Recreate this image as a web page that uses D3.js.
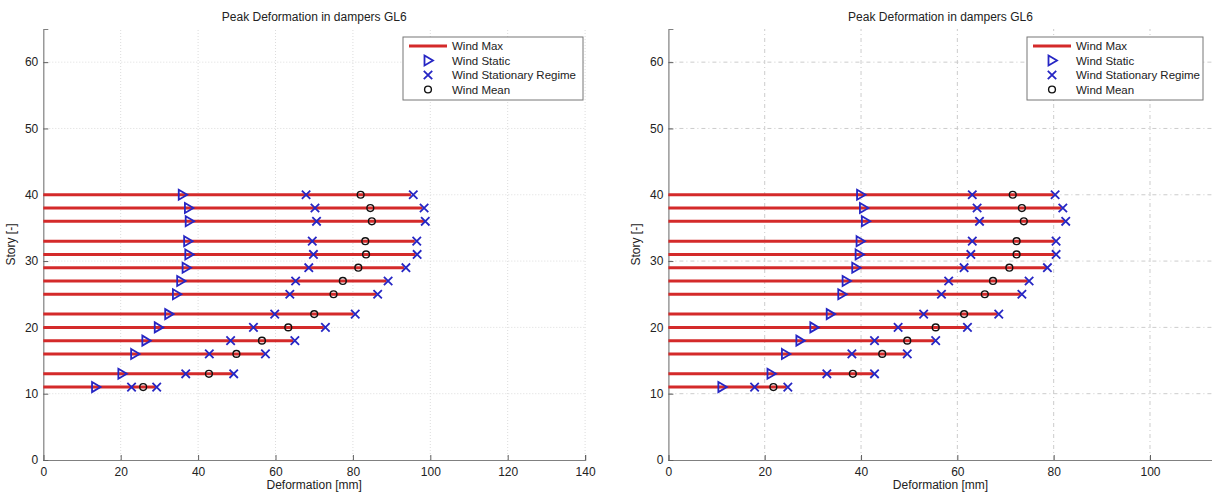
<!DOCTYPE html>
<html>
<head>
<meta charset="utf-8">
<script src="https://cdn.jsdelivr.net/npm/d3@7"></script>
<style>
  body { margin: 0; background: #fff; }
  svg { font-family: "Liberation Sans", Arial, sans-serif; }
</style>
</head>
<body>
<div class="canvas"></div>
<script>
// Stories (floors with dampers)
const stories = [40, 38, 36, 33, 31, 29, 27, 25, 22, 20, 18, 16, 13, 11];

// Left panel values [mm]
const leftStatic = [35.9, 37.5, 37.7, 37.3, 37.6, 36.9, 35.5, 34.4, 32.4, 29.7, 26.5, 23.6, 20.3, 13.5];
const leftStatLow = [67.9, 70.2, 70.6, 69.5, 69.8, 68.6, 65.2, 63.7, 59.8, 54.3, 48.4, 42.9, 36.8, 22.8];
const leftStatHigh = [95.6, 98.4, 98.7, 96.5, 96.6, 93.7, 89.1, 86.4, 80.6, 72.9, 65.0, 57.4, 49.2, 29.3];
const leftMean = [82.0, 84.5, 84.9, 83.2, 83.4, 81.4, 77.4, 75.0, 70.0, 63.3, 56.5, 49.9, 42.8, 25.8];
const leftMax = [95.0, 98.0, 98.4, 96.0, 96.2, 93.2, 88.7, 86.0, 80.2, 72.5, 64.6, 57.0, 48.8, 29.0];

// Right panel values [mm]
const rightStatic = [39.9, 40.5, 40.9, 39.8, 39.6, 38.9, 36.9, 36.0, 33.6, 30.2, 27.3, 24.3, 21.3, 11.1];
const rightStatLow = [63.1, 64.1, 64.6, 63.1, 62.8, 61.4, 58.2, 56.7, 53.0, 47.7, 42.8, 38.1, 32.9, 17.9];
const rightStatHigh = [80.3, 81.9, 82.5, 80.5, 80.5, 78.7, 74.9, 73.4, 68.6, 62.1, 55.5, 49.6, 42.8, 24.8];
const rightMean = [71.5, 73.4, 73.8, 72.3, 72.3, 70.8, 67.4, 65.7, 61.4, 55.5, 49.6, 44.4, 38.3, 21.8];
const rightMax = [80.0, 81.6, 82.2, 80.2, 80.2, 78.4, 74.6, 73.1, 68.3, 61.8, 55.2, 49.3, 42.5, 24.5];

const legendLabels = ['Wind Max', 'Wind Static', 'Wind Stationary Regime', 'Wind Mean'];
const yTicks = [0, 10, 20, 30, 40, 50, 60];
const leftXTicks = [0, 20, 40, 60, 80, 100, 120, 140];
const rightXTicks = [0, 20, 40, 60, 80, 100];

const svg = d3.select('.canvas')
    .append('svg')
    .attr('width', 1212)
    .attr('height', 495);

const red = '#d42a2a';
const blue = '#2626c4';

const drawPanel = (opt) => {
    const x = d3.scaleLinear().domain([0, opt.xMax]).range([opt.left, opt.right]);
    const y = d3.scaleLinear().domain([0, 65]).range([460, 29]);
    const g = svg.append('g');

    // grid
    g.append('g').selectAll('line')
        .data(opt.xTicks.filter(d => d > 0))
        .enter().append('line')
        .attr('x1', d => x(d)).attr('x2', d => x(d))
        .attr('y1', y(0)).attr('y2', y(65))
        .attr('stroke', opt.gridColor)
        .attr('stroke-dasharray', opt.gridDash);
    g.append('g').selectAll('line')
        .data(yTicks.filter(d => d > 0))
        .enter().append('line')
        .attr('x1', x(0)).attr('x2', opt.right)
        .attr('y1', d => y(d)).attr('y2', d => y(d))
        .attr('stroke', opt.gridColor)
        .attr('stroke-dasharray', opt.gridDash);

    // axes (MATLAB style, ticks inside)
    const xAxis = d3.axisTop(x).tickValues(opt.xTicks).tickSize(5).tickFormat(d3.format('d'));
    const gx = g.append('g').attr('transform', `translate(0, ${y(0)})`).call(xAxis);
    gx.select('.domain').attr('stroke', '#808080').attr('stroke-width', 1.2);
    gx.selectAll('.tick line').attr('stroke', '#606060');
    gx.selectAll('.tick text').attr('y', 7).attr('dy', '0.71em')
        .attr('font-size', 12).attr('fill', '#222');

    const yAxis = d3.axisRight(y).tickValues(yTicks).tickSize(5);
    const gy = g.append('g').attr('transform', `translate(${x(0)}, 0)`).call(yAxis);
    gy.select('.domain').attr('stroke', '#808080').attr('stroke-width', 1.2);
    gy.selectAll('.tick line').attr('stroke', '#606060');
    gy.selectAll('.tick text').attr('x', -5).attr('text-anchor', 'end')
        .attr('font-size', 12).attr('fill', '#222');

    // titles
    g.append('text')
        .attr('x', (opt.left + opt.right) / 2).attr('y', 21)
        .attr('text-anchor', 'middle').attr('font-size', 12).attr('fill', '#222')
        .text('Peak Deformation in dampers GL6');
    g.append('text')
        .attr('x', (opt.left + opt.right) / 2).attr('y', 489)
        .attr('text-anchor', 'middle').attr('font-size', 12).attr('fill', '#222')
        .text('Deformation [mm]');
    g.append('text')
        .attr('transform', `translate(${x(0) - 28}, ${y(32.5)}) rotate(-90)`)
        .attr('text-anchor', 'middle').attr('font-size', 12).attr('fill', '#222')
        .text('Story [-]');

    const rows = stories.map((s, i) => ({
        s, stat: opt.stat[i], lo: opt.lo[i], hi: opt.hi[i], mean: opt.mean[i], max: opt.max[i]
    }));

    // Wind Max lines
    g.append('g').selectAll('line')
        .data(rows).enter().append('line')
        .attr('x1', x(0)).attr('x2', d => x(d.max))
        .attr('y1', d => y(d.s)).attr('y2', d => y(d.s))
        .attr('stroke', red).attr('stroke-width', 3);

    // Wind Static triangles
    const tri = 'M-3.5,-5L5,0L-3.5,5Z';
    g.append('g').selectAll('path')
        .data(rows).enter().append('path')
        .attr('d', tri)
        .attr('transform', d => `translate(${x(d.stat)}, ${y(d.s)})`)
        .attr('fill', 'none').attr('stroke', blue).attr('stroke-width', 1.8);

    // Wind Stationary Regime crosses
    const cross = 'M-4.2,-4.2L4.2,4.2M-4.2,4.2L4.2,-4.2';
    const crossData = rows.flatMap(d => [{ v: d.lo, s: d.s }, { v: d.hi, s: d.s }]);
    g.append('g').selectAll('path')
        .data(crossData).enter().append('path')
        .attr('d', cross)
        .attr('transform', d => `translate(${x(d.v)}, ${y(d.s)})`)
        .attr('fill', 'none').attr('stroke', blue).attr('stroke-width', 1.8);

    // Wind Mean circles
    g.append('g').selectAll('circle')
        .data(rows).enter().append('circle')
        .attr('cx', d => x(d.mean)).attr('cy', d => y(d.s))
        .attr('r', 3.4)
        .attr('fill', 'none').attr('stroke', '#111').attr('stroke-width', 1.4);

    // legend
    const lg = g.append('g').attr('transform', `translate(${opt.legendX}, 37)`);
    lg.append('rect')
        .attr('width', opt.legendW).attr('height', 63)
        .attr('fill', '#fff').attr('stroke', '#777').attr('stroke-width', 1);
    const rowY = [9, 23.5, 38, 52.5];
    lg.append('line').attr('x1', 6).attr('x2', 44).attr('y1', rowY[0]).attr('y2', rowY[0])
        .attr('stroke', red).attr('stroke-width', 3);
    lg.append('path').attr('d', tri).attr('transform', `translate(25, ${rowY[1]})`)
        .attr('fill', 'none').attr('stroke', blue).attr('stroke-width', 1.8);
    lg.append('path').attr('d', cross).attr('transform', `translate(25, ${rowY[2]})`)
        .attr('fill', 'none').attr('stroke', blue).attr('stroke-width', 1.8);
    lg.append('circle').attr('cx', 25).attr('cy', rowY[3]).attr('r', 3.4)
        .attr('fill', 'none').attr('stroke', '#111').attr('stroke-width', 1.4);
    lg.selectAll('text.lab')
        .data(legendLabels).enter().append('text')
        .attr('class', 'lab')
        .attr('x', 49).attr('y', (d, i) => rowY[i]).attr('dy', '0.35em')
        .attr('font-size', 11.5).attr('fill', '#222')
        .text(d => d);
};

drawPanel({
    left: 43.3, right: 585.1, xMax: 140, xTicks: leftXTicks,
    gridColor: '#dcdcdc', gridDash: '1,2',
    stat: leftStatic, lo: leftStatLow, hi: leftStatHigh, mean: leftMean, max: leftMax,
    legendX: 403, legendW: 180
});

drawPanel({
    left: 668.4, right: 1212.6, xMax: 113, xTicks: rightXTicks,
    gridColor: '#cccccc', gridDash: '4,3,1,3',
    stat: rightStatic, lo: rightStatLow, hi: rightStatHigh, mean: rightMean, max: rightMax,
    legendX: 1027, legendW: 176
});
</script>
</body>
</html>
